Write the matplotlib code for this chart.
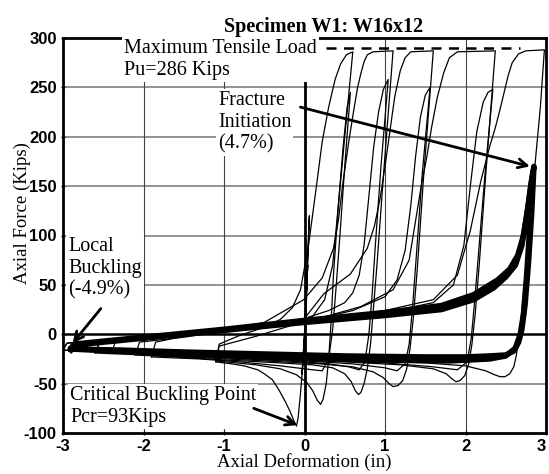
import matplotlib
matplotlib.use("Agg")
import matplotlib.pyplot as plt

plt.rcParams['axes.unicode_minus'] = False

# Hysteresis of specimen W1 (W16x12), one path per cycle
# initial elastic cycles and critical buckling
p0_x = [0.0, 0.04, 0.0, -0.03, 0.0, 0.06, 0.01, -0.05, -0.08, -0.1, -0.13, -0.18, -0.24, -0.32, -0.4, -0.5, -0.58, -0.75, -0.9, -1.1]
p0_y = [0, 70, 0, -40, 0, 120, 0, -60, -85, -93, -88, -78, -68, -56, -46, -40, -36, -32, -30, -28]
# cycle to 0.6 in
p1_x = [-1.1, -1.06, -0.8, -0.5, -0.3, -0.15, -0.05, 0.05, 0.14, 0.22, 0.3, 0.38, 0.45, 0.52, 0.6,
        0.5, 0.42, 0.36, 0.33, 0.3, 0.27, 0.23, 0.2, 0.16, 0.1, 0.03, -0.1, -0.3, -0.6, -1.1]
p1_y = [-28, -10, -1, 7, 15, 27, 45, 90, 145, 195, 230, 258, 274, 283, 286,
        200, 130, 60, 12, -25, -50, -66, -71, -67, -57, -49, -41, -35, -31, -27]
p2_x = [-1.1, -1.06, -0.6, -0.2, 0.1, 0.25, 0.35, 0.42, 0.48, 0.53, 0.57,
        0.5, 0.44, 0.39, 0.35, 0.3, 0.22, 0.1, -0.3, -0.8, -1.3, -1.9]
p2_y = [-27, -12, -2, 8, 18, 35, 70, 130, 190, 230, 245,
        170, 100, 45, 5, -25, -37, -36, -32, -28, -25, -23]
# cycle to 1.1 in
p3_x = [-1.9, -1.85, -1.5, -1.0, -0.5, -0.01, 0.22, 0.36, 0.42, 0.48, 0.55, 0.61, 0.66, 0.7, 0.74, 0.78, 0.85, 1.1,
        0.98, 0.9, 0.85, 0.82, 0.78, 0.74, 0.7, 0.67, 0.63, 0.58, 0.5, 0.35, 0.1, -0.3, -1.0, -1.6, -2.1]
p3_y = [-23, -8, -2, 4, 12, 35, 57, 87, 115, 155, 195, 226, 250, 264, 276, 283, 286, 287,
        160, 70, 20, -10, -35, -50, -59, -61, -57, -48, -40, -34, -31, -29, -26, -23, -21]
p4_x = [-2.1, -2.05, -1.5, -1.0, -0.5, 0.0, 0.3, 0.5, 0.6, 0.68, 0.74, 0.8, 0.86, 0.92, 0.98, 1.04,
        0.95, 0.88, 0.84, 0.8, 0.75, 0.68, 0.55, 0.3, 0.0, -0.5, -1.0, -1.5, -2.0, -2.4]
p4_y = [-21, -8, -3, 3, 9, 16, 24, 32, 42, 60, 90, 140, 190, 225, 248, 258,
        170, 90, 40, 0, -28, -36, -33, -30, -28, -26, -24, -22, -20, -19]
# cycle to 1.6 in
p5_x = [-2.4, -2.35, -2.0, -1.5, -1.0, -0.5, 0.0, 0.24, 0.57, 0.78, 0.87, 0.94, 1.0, 1.06, 1.12, 1.19, 1.25, 1.32, 1.6,
        1.48, 1.4, 1.35, 1.31, 1.27, 1.22, 1.16, 1.1, 1.05, 0.98, 0.85, 0.6, 0.2, -0.5, -1.2, -2.0, -2.6]
p5_y = [-19, -8, -4, 0, 4, 9, 16, 41, 61, 87, 110, 138, 170, 205, 240, 267, 280, 286, 287,
        160, 65, 15, -15, -35, -47, -52, -53, -50, -44, -38, -33, -30, -27, -24, -21, -19]
p6_x = [-2.6, -2.55, -2.0, -1.0, 0.0, 0.6, 1.0, 1.15, 1.25, 1.32, 1.38, 1.44, 1.5, 1.56,
        1.46, 1.39, 1.34, 1.3, 1.25, 1.15, 1.0, 0.6, 0.0, -1.0, -2.0, -2.6]
p6_y = [-19, -9, -5, 3, 13, 24, 38, 55, 85, 130, 180, 220, 242, 250,
        160, 80, 25, -10, -30, -37, -34, -30, -27, -23, -20, -18]
# cycle to 2.37 in
p7_x = [-2.6, -2.55, -2.0, -1.0, 0.0, 0.7, 1.1, 1.3, 1.38, 1.45, 1.52, 1.58, 1.65, 1.73, 1.8, 1.9, 2.37,
        2.25, 2.17, 2.12, 2.08, 2.04, 1.99, 1.93, 1.88, 1.83, 1.76, 1.6, 1.2, 0.5, -0.5, -1.5, -2.3, -3.0]
p7_y = [-18, -9, -4, 2, 12, 28, 45, 75, 115, 150, 180, 210, 240, 265, 280, 286, 287,
        160, 70, 20, -10, -30, -42, -47, -48, -45, -40, -35, -31, -28, -25, -22, -19, -16]
p8_x = [-3.0, -2.95, -2.0, -1.0, 0.0, 1.0, 1.6, 1.85, 1.98, 2.06, 2.14, 2.22, 2.28, 2.34,
        2.24, 2.16, 2.11, 2.07, 2.02, 1.9, 1.6, 1.0, 0.0, -1.0, -2.0, -3.0]
p8_y = [-16, -9, -4, 3, 12, 22, 32, 50, 90, 150, 205, 235, 245, 248,
        160, 80, 30, -5, -28, -36, -33, -29, -26, -23, -19, -16]
# cycle to 3.0 in
p9_x = [-3.0, -2.95, -2.0, -1.0, 0.0, 1.0, 1.6, 1.9, 2.06, 2.19, 2.3, 2.37, 2.43, 2.48, 2.53, 2.58, 2.66, 2.75, 2.98,
        2.93, 2.85, 2.78, 2.72, 2.67, 2.63, 2.6, 2.55, 2.49, 2.43, 2.36, 2.25, 2.0, 1.5, 0.5, -0.5, -1.5, -2.3, -2.9]
p9_y = [-16, -9, -3, 4, 13, 24, 35, 60, 105, 155, 190, 209, 228, 245, 262, 275, 284, 287, 288,
        230, 160, 95, 40, 0, -22, -33, -40, -43, -43, -41, -37, -32, -29, -27, -24, -21, -18, -16]
# repeated cycles up to fracture (drawn as heavy bands)
band1_x = [-2.9, -2.85, -2.5, -2.0, -1.0, 0.0, 1.0, 1.7, 2.1, 2.35, 2.5, 2.62, 2.7, 2.76, 2.81, 2.85,
           2.82, 2.78, 2.74, 2.7, 2.66, 2.6, 2.5, 2.3, 2.0, 1.5, 0.5, -0.5, -1.5, -2.3, -2.9]
band1_y = [-16, -11, -8, -4, 4, 12, 19, 25, 35, 47, 58, 70, 90, 120, 150, 170,
           120, 70, 30, 5, -8, -17, -21, -22, -23, -23, -22, -20, -18, -16, -15]
band2_x = [-2.9, -2.86, -2.5, -2.0, -1.0, 0.0, 1.0, 1.7, 2.1, 2.4, 2.55, 2.65, 2.72, 2.78, 2.82, 2.84,
           2.8, 2.76, 2.72, 2.68, 2.62, 2.5, 2.3, 1.8, 1.0, 0.0, -1.0, -2.0, -2.9]
band2_y = [-14, -10, -7, -3, 5, 14, 22, 29, 40, 55, 66, 80, 100, 130, 155, 165,
           110, 60, 20, 0, -14, -22, -25, -27, -26, -24, -21, -18, -15]

paths = [(p0_x, p0_y), (p1_x, p1_y), (p2_x, p2_y), (p3_x, p3_y), (p4_x, p4_y),
         (p5_x, p5_y), (p6_x, p6_y), (p7_x, p7_y), (p8_x, p8_y), (p9_x, p9_y)]
bands = [(band1_x, band1_y), (band2_x, band2_y)]

x_ticks = [-3, -2, -1, 0, 1, 2, 3]
y_ticks = [-100, -50, 0, 50, 100, 150, 200, 250, 300]
h_grid = [-50, 50, 100, 150, 200, 250]
v_grid = [-2, -1, 1, 2]
pu_x = [0.27, 2.68]
pu_y = [290, 290]

serif = ['Liberation Serif', 'DejaVu Serif']
sans = ['Liberation Sans', 'DejaVu Sans']

fig = plt.figure(figsize=(5.49, 4.74), dpi=100)
ax = fig.add_axes([63 / 549, 1 - 433 / 474, 483 / 549, 395 / 474])
ax.set_xlim(-3, 3)
ax.set_ylim(-100, 300)

for g in h_grid:
    ax.axhline(g, color='#8a8a8a', lw=1.3, zorder=0.5)
for g in v_grid:
    ax.axvline(g, color='#444444', lw=0.8, zorder=0.5)
ax.axhline(0, color='black', lw=1.8, zorder=1)
ax.axvline(0, color='black', lw=2.0, zorder=1)

for xs, ys in bands:
    ax.plot(xs, ys, color='black', lw=4, solid_joinstyle='round', zorder=2)
for xs, ys in paths:
    ax.plot(xs, ys, color='black', lw=0.9, zorder=3)

ax.plot(pu_x, pu_y, color='black', lw=1.8, ls=(0, (4, 3)), zorder=3)

for s in ax.spines.values():
    s.set_linewidth(2)
ax.set_xticks(x_ticks)
ax.set_yticks(y_ticks)
ax.tick_params(direction='inout', length=3, width=1, pad=3)
for lab in ax.get_xticklabels() + ax.get_yticklabels():
    lab.set_fontfamily(sans)
    lab.set_fontsize(12)
    lab.set_fontweight('bold')
ax.get_xticklabels()[-1].set_horizontalalignment('right')

box = dict(facecolor='white', edgecolor='none', pad=1.5)
fs = 14.5
ax.text((124 - 63) / 483, (433 - 39) / 395, 'Maximum Tensile Load\nPu=286 Kips', transform=ax.transAxes,
        ha='left', va='top', family=serif, size=fs, bbox=box, zorder=6)
ax.text((218 - 63) / 483, (433 - 91) / 395, 'Fracture\nInitiation\n(4.7%)', transform=ax.transAxes,
        ha='left', va='top', family=serif, size=fs, bbox=box, zorder=6)
ax.text((68 - 63) / 483, (433 - 237) / 395, 'Local\nBuckling\n(-4.9%)', transform=ax.transAxes,
        ha='left', va='top', family=serif, size=fs, bbox=box, zorder=6)
ax.text((70 - 63) / 483, (433 - 386) / 395, 'Critical Buckling Point\nPcr=93Kips', transform=ax.transAxes,
        ha='left', va='top', family=serif, size=fs, bbox=box, zorder=6)

arrow = dict(arrowstyle='->', color='black', lw=2, mutation_scale=16, shrinkA=0, shrinkB=0)
ax.annotate('', xy=(2.8, 170), xytext=(-0.05, 230), arrowprops=arrow, zorder=7)
ax.annotate('', xy=(-2.88, -9), xytext=(-2.53, 26), arrowprops=arrow, zorder=7)
ax.annotate('', xy=(-0.09, -92), xytext=(-0.63, -75), arrowprops=arrow, zorder=7)

fig.text(324 / 549, 1 - 32 / 474, 'Specimen W1: W16x12', ha='center', va='baseline',
         family=serif, size=14.5, weight='bold')
fig.text(22 / 549, 1 - 213 / 474, 'Axial Force (Kips)', rotation=90, ha='center', va='center',
         family=serif, size=13.5)
fig.text(304 / 549, 1 - 462 / 474, 'Axial Deformation (in)', ha='center', va='center',
         family=serif, size=13.5)

fig.savefig('out.png', dpi=100)
